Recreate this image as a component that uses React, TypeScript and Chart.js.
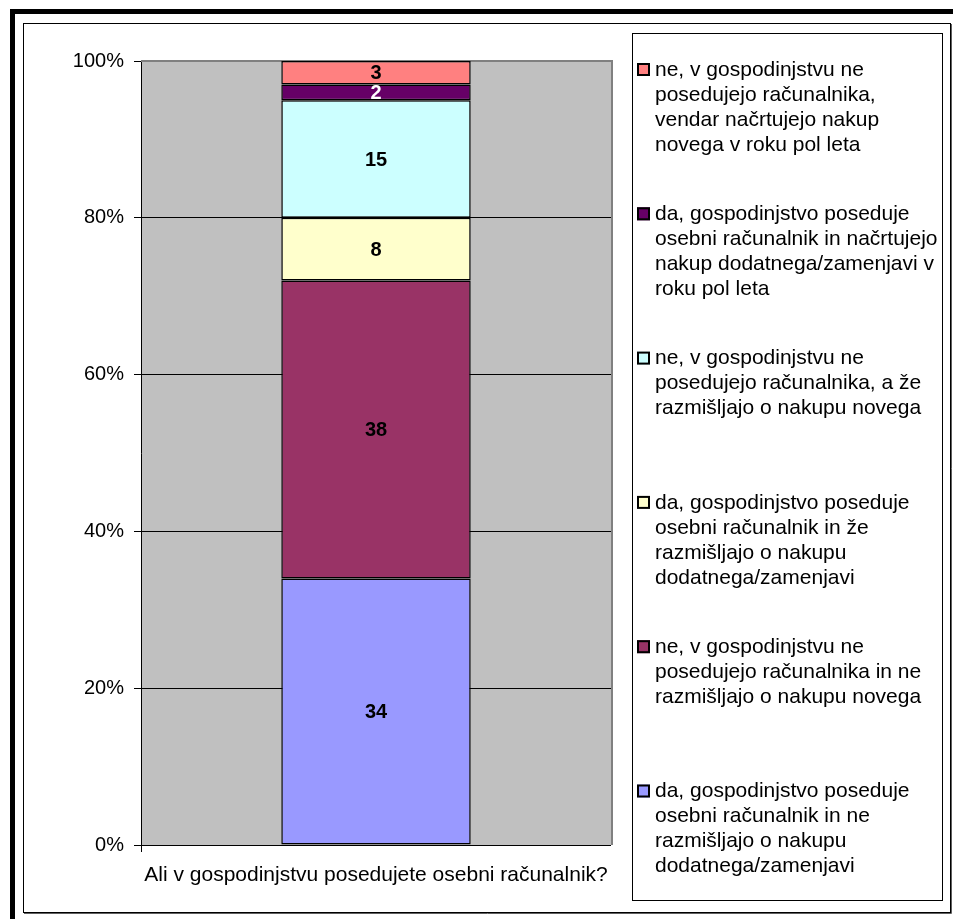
import React, { useEffect, useRef } from "react";
import { Chart, registerables } from "chart.js";
Chart.register(...registerables);

const categories = ["Ali v gospodinjstvu posedujete osebni računalnik?"];

const seriesNames: string[][] = [
  ["da, gospodinjstvo poseduje", "osebni računalnik in ne", "razmišljajo o nakupu", "dodatnega/zamenjavi"],
  ["ne, v gospodinjstvu ne", "posedujejo računalnika in ne", "razmišljajo o nakupu novega"],
  ["da, gospodinjstvo poseduje", "osebni računalnik in že", "razmišljajo o nakupu", "dodatnega/zamenjavi"],
  ["ne, v gospodinjstvu ne", "posedujejo računalnika, a že", "razmišljajo o nakupu novega"],
  ["da, gospodinjstvo poseduje", "osebni računalnik in načrtujejo", "nakup dodatnega/zamenjavi v", "roku pol leta"],
  ["ne, v gospodinjstvu ne", "posedujejo računalnika,", "vendar načrtujejo nakup", "novega v roku pol leta"],
];

const seriesValues = [34, 38, 8, 15, 2, 3];

const yTickValues = [0, 20, 40, 60, 80, 100];

const fillColors = ["#9999FF", "#993366", "#FFFFCC", "#CCFFFF", "#660066", "#FF8080"];
const labelColors = ["#000", "#000", "#000", "#000", "#fff", "#000"];

const FONT = "'Liberation Sans', Arial, sans-serif";

const framePlugin = {
  id: "frame",
  beforeDraw(chart: any) {
    const { ctx, width, height, chartArea } = chart;
    ctx.save();
    ctx.fillStyle = "#fff";
    ctx.fillRect(0, 0, width, height);
    ctx.fillStyle = "#000";
    ctx.fillRect(10, 9, width - 10, 5);
    ctx.fillRect(10, 9, 5, height - 9);
    ctx.strokeStyle = "#000";
    ctx.lineWidth = 1;
    ctx.strokeRect(23.5, 23.5, 927, 889);
    ctx.strokeStyle = "#606060";
    ctx.beginPath();
    ctx.moveTo(24, 913.5);
    ctx.lineTo(951.5, 913.5);
    ctx.lineTo(951.5, 24);
    ctx.stroke();
    ctx.fillStyle = "#C0C0C0";
    ctx.fillRect(chartArea.left, chartArea.top, chartArea.right - chartArea.left, chartArea.bottom - chartArea.top);
    ctx.restore();
  },
  beforeDatasetsDraw(chart: any) {
    const { ctx, chartArea } = chart;
    ctx.save();
    ctx.strokeStyle = "#808080";
    ctx.lineWidth = 2;
    ctx.beginPath();
    ctx.moveTo(chartArea.left, chartArea.top);
    ctx.lineTo(chartArea.right + 1, chartArea.top);
    ctx.lineTo(chartArea.right + 1, chartArea.bottom);
    ctx.stroke();
    // small tick below x axis at the left edge
    ctx.strokeStyle = "#000";
    ctx.lineWidth = 1;
    ctx.beginPath();
    ctx.moveTo(chartArea.left + 0.5, chartArea.bottom);
    ctx.lineTo(chartArea.left + 0.5, chartArea.bottom + 7);
    ctx.stroke();
    ctx.restore();
  },
  afterDatasetsDraw(chart: any) {
    const { ctx } = chart;
    ctx.save();
    ctx.font = `bold 20px ${FONT}`;
    ctx.textAlign = "center";
    ctx.textBaseline = "middle";
    chart.data.datasets.forEach((ds: any, i: number) => {
      const meta = chart.getDatasetMeta(i);
      meta.data.forEach((el: any, j: number) => {
        const v = ds.data[j];
        const cy = (el.y + el.base) / 2;
        ctx.fillStyle = labelColors[i];
        ctx.fillText(String(v), el.x, cy + 1);
      });
    });
    ctx.restore();
  },
  afterDraw(chart: any) {
    const { ctx } = chart;
    ctx.save();
    const lx = 632, ly = 33, lw = 310, lh = 867;
    ctx.strokeStyle = "#000";
    ctx.lineWidth = 1;
    ctx.strokeRect(lx + 0.5, ly + 0.5, lw, lh);
    ctx.font = `21px ${FONT}`;
    ctx.textBaseline = "middle";
    ctx.textAlign = "left";
    const n = chart.data.datasets.length;
    const slot = 144.3;
    for (let k = 0; k < n; k++) {
      const i = n - 1 - k;
      const ds = chart.data.datasets[i];
      const y0 = ly + 36 + k * slot;
      ctx.fillStyle = ds.backgroundColor;
      ctx.fillRect(637, y0 - 6, 13, 13);
      ctx.strokeStyle = "#000";
      ctx.lineWidth = 2;
      ctx.strokeRect(638, y0 - 5, 11, 11);
      ctx.fillStyle = "#000";
      seriesNames[i].forEach((line, j) => {
        ctx.fillText(line, 655, y0 + j * 25 + 1);
      });
    }
    ctx.restore();
  },
};

export default function App() {
  const ref = useRef<HTMLCanvasElement>(null);
  useEffect(() => {
    document.body.style.margin = "0";
    const canvas = ref.current!;
    const chart = new Chart(canvas, {
      type: "bar",
      data: {
        labels: categories,
        datasets: seriesValues.map((v, i) => ({
          label: seriesNames[i].join(" "),
          data: [v],
          backgroundColor: fillColors[i],
          borderColor: "#000",
          borderWidth: 1.5,
          borderSkipped: false,
          categoryPercentage: 1,
          barPercentage: 0.403,
        })),
      },
      options: {
        animation: false,
        responsive: false,
        devicePixelRatio: 1,
        layout: { padding: { top: 61, right: 342, left: 0, bottom: 0 } },
        plugins: { legend: { display: false }, tooltip: { enabled: false } },
        scales: {
          x: {
            stacked: true,
            grid: { display: false, drawTicks: false },
            border: { display: false },
            ticks: { color: "#000", font: { family: FONT, size: 21 }, padding: 18, maxRotation: 0 },
            afterFit(scale: any) { scale.height = 74; },
          },
          y: {
            stacked: true,
            min: 0,
            max: 100,
            afterBuildTicks(scale: any) { scale.ticks = yTickValues.map((v) => ({ value: v })); },
            grid: { color: "#000", lineWidth: 1, tickLength: 7, drawTicks: true },
            border: { display: true, color: "#000", width: 1 },
            ticks: {
              color: "#000",
              font: { family: FONT, size: 20 },
              padding: 10,
              callback: (v: any) => `${v}%`,
            },
            afterFit(scale: any) { scale.width = 141; },
          },
        },
      },
      plugins: [framePlugin],
    });
    return () => chart.destroy();
  }, []);
  return <canvas ref={ref} width={953} height={919} style={{ display: "block" }} />;
}
